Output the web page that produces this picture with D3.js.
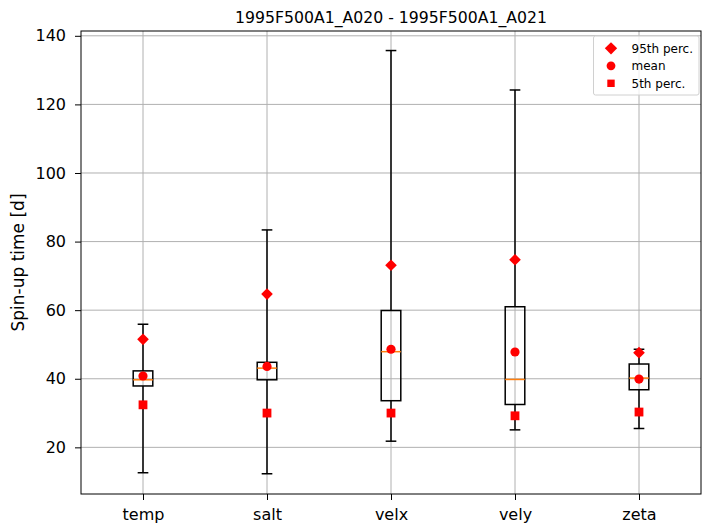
<!DOCTYPE html>
<html>
<head>
<meta charset="utf-8">
<script src="https://cdn.jsdelivr.net/npm/d3@7"></script>
<style>
  body { margin: 0; background: #fff; }
  text { font-family: "DejaVu Sans", sans-serif; }
</style>
</head>
<body>
<div id="chart"></div>
<script>
// data
var variables = ["temp", "salt", "velx", "vely", "zeta"];
var whiskerLow = [12.6, 12.3, 21.8, 25.1, 25.5];
var q1 = [37.9, 39.7, 33.6, 32.5, 36.8];
var median = [39.7, 43.1, 47.9, 39.8, 40.2];
var q3 = [42.3, 44.8, 59.9, 61.0, 44.3];
var whiskerHigh = [55.9, 83.4, 135.7, 124.2, 48.6];
var perc95 = [51.5, 64.7, 73.1, 74.7, 47.6];
var means = [40.8, 43.6, 48.6, 47.8, 39.9];
var perc5 = [32.4, 30.0, 30.0, 29.2, 30.3];
var yTicks = [20, 40, 60, 80, 100, 120, 140];

var width = 704, height = 529,
    margins = {top: 31, left: 81, right: 3, bottom: 35};

var svg = d3.select("#chart").append("svg")
    .attr("width", width)
    .attr("height", height);

var x = d3.scaleLinear().domain([0.5, 5.5]).range([margins.left, width - margins.right]);
var y = d3.scaleLinear().domain([6.4, 141.4]).range([height - margins.bottom, margins.top]);

var grid = svg.append("g").attr("class", "grid");
grid.selectAll("line.gx")
    .data(variables)
    .enter().append("line")
    .attr("x1", function (d, i) { return x(i + 1); })
    .attr("x2", function (d, i) { return x(i + 1); })
    .attr("y1", y.range()[0])
    .attr("y2", y.range()[1])
    .attr("stroke", "#b0b0b0")
    .attr("stroke-width", 1);
grid.selectAll("line.gy")
    .data(yTicks)
    .enter().append("line")
    .attr("x1", x.range()[0])
    .attr("x2", x.range()[1])
    .attr("y1", function (d) { return y(d); })
    .attr("y2", function (d) { return y(d); })
    .attr("stroke", "#b0b0b0")
    .attr("stroke-width", 1);

var body = svg.append("g").attr("class", "body");
var boxHalf = 0.079, capHalf = 0.043;

variables.forEach(function (v, i) {
    var cx = x(i + 1);
    var g = body.append("g");
    // whiskers
    g.append("line")
        .attr("x1", cx).attr("x2", cx)
        .attr("y1", y(whiskerLow[i])).attr("y2", y(q1[i]))
        .attr("stroke", "#000").attr("stroke-width", 1.5);
    g.append("line")
        .attr("x1", cx).attr("x2", cx)
        .attr("y1", y(q3[i])).attr("y2", y(whiskerHigh[i]))
        .attr("stroke", "#000").attr("stroke-width", 1.5);
    [whiskerLow[i], whiskerHigh[i]].forEach(function (c) {
        g.append("line")
            .attr("x1", x(i + 1 - capHalf)).attr("x2", x(i + 1 + capHalf))
            .attr("y1", y(c)).attr("y2", y(c))
            .attr("stroke", "#000").attr("stroke-width", 1.5);
    });
    // box
    g.append("rect")
        .attr("x", x(i + 1 - boxHalf))
        .attr("y", y(q3[i]))
        .attr("width", x(i + 1 + boxHalf) - x(i + 1 - boxHalf))
        .attr("height", y(q1[i]) - y(q3[i]))
        .attr("fill", "none")
        .attr("stroke", "#000").attr("stroke-width", 1.5);
    g.append("line")
        .attr("x1", x(i + 1 - boxHalf)).attr("x2", x(i + 1 + boxHalf))
        .attr("y1", y(median[i])).attr("y2", y(median[i]))
        .attr("stroke", "#ff7f0e").attr("stroke-width", 1.5);
});

// markers
var diamond = d3.symbol().type(d3.symbolSquare).size(68);
body.selectAll("path.p95")
    .data(perc95)
    .enter().append("path")
    .attr("class", "p95")
    .attr("d", diamond)
    .attr("transform", function (d, i) { return "translate(" + x(i + 1) + "," + y(d) + ") rotate(45)"; })
    .attr("fill", "red");
body.selectAll("circle.mean")
    .data(means)
    .enter().append("circle")
    .attr("class", "mean")
    .attr("cx", function (d, i) { return x(i + 1); })
    .attr("cy", function (d) { return y(d); })
    .attr("r", 4.6)
    .attr("fill", "red");
body.selectAll("rect.p5")
    .data(perc5)
    .enter().append("rect")
    .attr("class", "p5")
    .attr("x", function (d, i) { return x(i + 1) - 4.4; })
    .attr("y", function (d) { return y(d) - 4.4; })
    .attr("width", 8.8)
    .attr("height", 8.8)
    .attr("fill", "red");

// frame
svg.append("rect")
    .attr("x", x.range()[0]).attr("y", y.range()[1])
    .attr("width", x.range()[1] - x.range()[0])
    .attr("height", y.range()[0] - y.range()[1])
    .attr("fill", "none")
    .attr("stroke", "#000").attr("stroke-width", 1);

// axes
var xAxis = d3.axisBottom(x)
    .tickValues([1, 2, 3, 4, 5])
    .tickFormat(function (d) { return variables[d - 1]; })
    .tickSize(6).tickPadding(9);
var yAxis = d3.axisLeft(y)
    .tickValues(yTicks)
    .tickSize(6).tickPadding(9);

var xg = svg.append("g")
    .attr("transform", "translate(0," + y.range()[0] + ")")
    .call(xAxis);
var yg = svg.append("g")
    .attr("transform", "translate(" + x.range()[0] + ",0)")
    .call(yAxis);
[xg, yg].forEach(function (a) {
    a.select(".domain").remove();
    a.selectAll("text").attr("font-size", 16).attr("fill", "#000")
        .style("font-family", "DejaVu Sans, sans-serif");
    a.selectAll(".tick line").attr("stroke", "#000");
});

svg.append("text")
    .attr("transform", "translate(23.5," + (y.range()[0] + y.range()[1]) / 2 + ") rotate(-90)")
    .attr("text-anchor", "middle")
    .attr("font-size", 17)
    .text("Spin-up time [d]");

svg.append("text")
    .attr("x", (x.range()[0] + x.range()[1]) / 2)
    .attr("y", 22.5)
    .attr("text-anchor", "middle")
    .attr("font-size", 15.7)
    .text("1995F500A1_A020 - 1995F500A1_A021");

// legend
var legendItems = ["95th perc.", "mean", "5th perc."];
var lg = svg.append("g").attr("transform", "translate(593.5,36)");
lg.append("rect")
    .attr("width", 105.5).attr("height", 59)
    .attr("rx", 2)
    .attr("fill", "#fff").attr("fill-opacity", 0.8)
    .attr("stroke", "#d0d0d0");
lg.selectAll("g.item")
    .data(legendItems)
    .enter().append("g")
    .attr("class", "item")
    .attr("transform", function (d, i) { return "translate(17.5," + (12.3 + i * 17.5) + ")"; })
    .each(function (d, i) {
        var it = d3.select(this);
        if (i === 0) {
            it.append("path").attr("d", d3.symbol().type(d3.symbolSquare).size(76)).attr("transform", "rotate(45)").attr("fill", "red");
        } else if (i === 1) {
            it.append("circle").attr("r", 4.4).attr("fill", "red");
        } else {
            it.append("rect").attr("x", -3.7).attr("y", -3.7).attr("width", 7.4).attr("height", 7.4).attr("fill", "red");
        }
        it.append("text")
            .attr("x", 20.5).attr("y", 4.3)
            .attr("font-size", 12)
            .text(d);
    });
</script>
</body>
</html>
